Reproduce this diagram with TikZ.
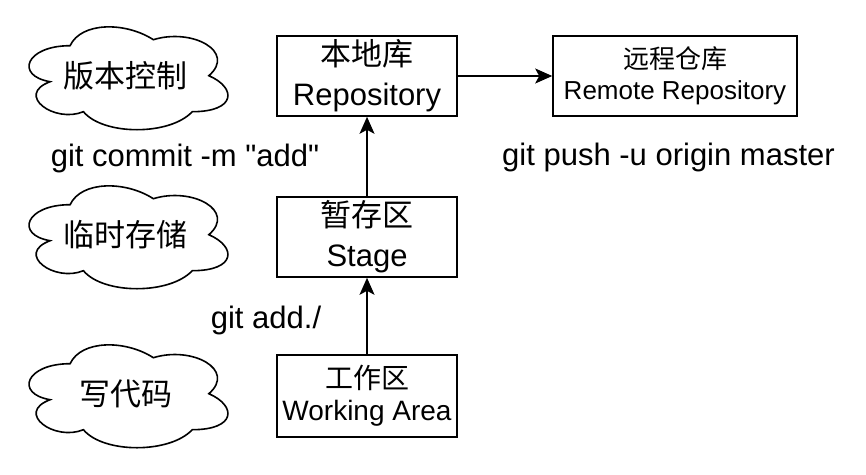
\documentclass[tikz,border=0pt]{standalone}
\usepackage{fontspec}
\setmainfont{Liberation Sans}[Ligatures = TeXOff]
\newfontfamily\cjk{Noto Sans CJK SC}
\usetikzlibrary{arrows.meta}

\newcommand\bigfont{\fontsize{31}{40}\selectfont}
\newcommand\midfont{\fontsize{28}{32}\selectfont}
\newcommand\smallfont{\fontsize{26}{31}\selectfont}

\tikzset{
    areabox/.style = {draw, line width = 1.6pt, minimum width = 180pt, minimum height = 80pt,
        align = center, inner sep = 0pt, font = \bigfont},
    flow/.style    = {line width = 1.6pt, -{Stealth[length = 17pt, width = 15pt, inset = 4pt]}},
    cmd/.style     = {font = \bigfont, inner sep = 0pt},
}

\begin{document}
\begin{tikzpicture}[x = 1pt, y = -1pt]

    \def\cw {222}
    \def\ch {120}

    % canvas
    \path [fill = white] (0, 0) rectangle (866, 474);

    % clouds
    \foreach \y/\name/\txt in {15.7/vcs/版本控制, 174.7/tmp/临时存储, 333.7/code/写代码} {
        \draw [line width = 1.6pt, shift = {(14.6, \y)}, xscale = \cw, yscale = \ch]
            (0.25, 0.25) .. controls (0.05, 0.25) and (0, 0.5) .. (0.16, 0.55)
            .. controls (0, 0.66) and (0.18, 0.9) .. (0.31, 0.8)
            .. controls (0.4, 1) and (0.7, 1) .. (0.8, 0.8)
            .. controls (1, 0.8) and (1, 0.6) .. (0.875, 0.5)
            .. controls (1, 0.3) and (0.8, 0.1) .. (0.625, 0.2)
            .. controls (0.5, 0.05) and (0.3, 0.05) .. (0.25, 0.25) -- cycle;
        \node [font = \bigfont\cjk] (\name) at (14.6 + \cw / 2, \y + \ch / 2) {\txt};
    }

    % areas
    \node [areabox] (repo)  at (367, 76)  {{\cjk 本地库}\\Repository};
    \node [areabox] (stage) at (367, 237) {{\cjk 暂存区}\\Stage};
    \node [areabox, minimum height = 82pt, font = \midfont] (work) at (367, 396)
        {{\cjk 工作区}\\Working Area};
    \node [areabox, minimum width = 244pt, font = \smallfont] (remote) at (675, 76)
        {{\cjk 远程仓库}\\Remote Repository};

    % commands
    \node [cmd] (commit) at (185, 158)   {git commit -m "add"};
    \node [cmd] (push)   at (668.5, 157) {git push -u origin master};
    \node [cmd] (add)    at (266, 320)   {git add./};

    % flow
    \draw [flow] (work)  -- (stage);
    \draw [flow] (stage) -- (repo);
    \draw [flow] (repo)  -- (remote);

\end{tikzpicture}
\end{document}
